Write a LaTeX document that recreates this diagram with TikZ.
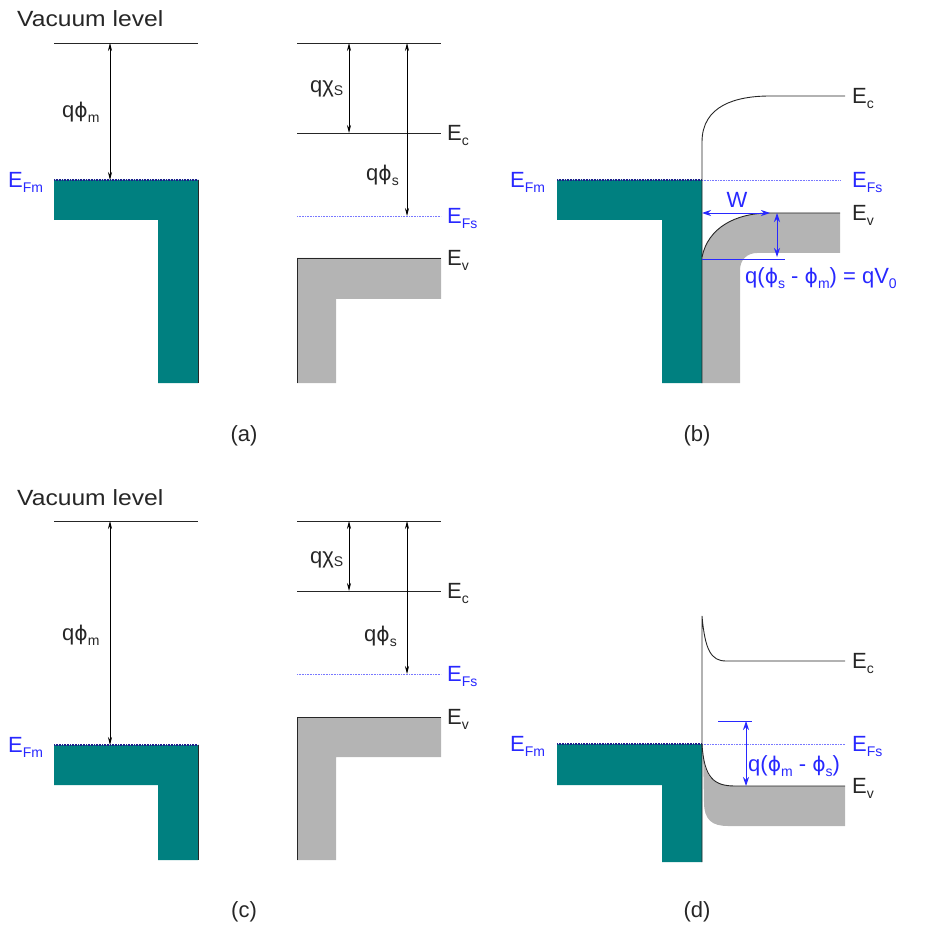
\documentclass[tikz,border=0pt]{standalone}
\usepackage{fontspec}
\setmainfont{Liberation Sans}
\newfontfamily\phifont[Scale=0.92]{DejaVu Sans}
\usetikzlibrary{arrows.meta}
\newcommand\sbs[1]{\raisebox{-5pt}{\fontsize{14}{14}\selectfont #1}}
\newcommand\ph{{\phifont ϕ}}
\definecolor{metalc}{RGB}{0,128,128}
\definecolor{semic}{RGB}{180,180,180}
\definecolor{labblue}{RGB}{40,40,255}
\definecolor{fermiblue}{RGB}{120,120,255}
\definecolor{navyline}{RGB}{30,30,140}
\begin{document}
\begin{tikzpicture}[x=1pt,y=-1pt,
  lvl/.style={line width=0.9pt, black!85},
  fermi/.style={line width=0.9pt, fermiblue, dash pattern=on 0.8pt off 0.8pt},
  mtop/.style={line width=1.1pt, navyline, dash pattern=on 1pt off 0.6pt},
  dimarrow/.style={line width=0.7pt, black, {Stealth[length=8pt,width=4pt]}-{Stealth[length=8pt,width=4pt]}},
  bluearrow/.style={line width=0.9pt, labblue, {Stealth[length=9pt,width=6pt]}-{Stealth[length=9pt,width=6pt]}},
  blueline/.style={line width=0.9pt, labblue},
  txt/.style={anchor=base west, inner sep=0pt, font=\fontsize{22}{26}\selectfont, text=black!85},
  bluetxt/.style={txt, text=labblue},
  panellab/.style={anchor=center, inner sep=0pt, font=\fontsize{22}{26}\selectfont, text=black!85}]
\useasboundingbox (0,0) rectangle (926,925);

% ================= (a) =================
\fill[metalc] (54,180) -- (198,180) -- (198,383) -- (158,383) -- (158,220) -- (54,220) -- cycle;
\draw[lvl] (198,180) -- (198,383);
\draw[mtop] (54,180) -- (198,180);
\draw[lvl] (54,43) -- (198,43);
\coordinate (am1) at (110,43); \coordinate (am2) at (110,180);
\draw[dimarrow] (am1) -- (am2);
\node[txt] (avac) at (17,27) {\scalebox{1.12}[1]{Vacuum level}};
\node[txt] (aqm) at (62,118) {q\ph\sbs{m}};
\node[bluetxt] (aefm) at (8,187.5) {E\sbs{Fm}};

\fill[semic] (297,258) -- (441,258) -- (441,299) -- (336,299) -- (336,383) -- (297,383) -- cycle;
\draw[lvl] (297,383) -- (297,258) -- (441,258);
\draw[lvl] (297,43) -- (441,43);
\draw[lvl] (297,133) -- (441,133);
\draw[fermi] (297,216) -- (441,216);
\coordinate (ac1) at (349,43); \coordinate (ac2) at (349,133);
\draw[dimarrow] (ac1) -- (ac2);
\coordinate (as1) at (407,43); \coordinate (as2) at (407,216);
\draw[dimarrow] (as1) -- (as2);
\node[txt] (aqx) at (310,93) {qχ\raisebox{-3pt}{\fontsize{14}{14}\selectfont S}};
\node[txt] (aqs) at (366,181) {q\ph\sbs{s}};
\node[txt] (aec) at (447,140.5) {E\sbs{c}};
\node[bluetxt] (aefs) at (447,223.5) {E\sbs{Fs}};
\node[txt] (aev) at (447,265.5) {E\sbs{v}};
\node[panellab] (alab) at (244,436) {(a)};

% ================= (b) =================
\fill[metalc] (557,180) -- (702,180) -- (702,383) -- (662,383) -- (662,220) -- (557,220) -- cycle;
\draw[mtop] (557,180) -- (702,180);
\draw[fermi] (702,180) -- (840,180);
\fill[semic] (702,257) .. controls (708,228) and (735,213) .. (770,213) -- (840,213) -- (840,253)
  -- (757,253) .. controls (747,253) and (740,260) .. (740,270) -- (740,383) -- (702,383) -- cycle;
\draw[lvl] (702,257) .. controls (708,228) and (735,213) .. (770,213) -- (840,213);
\draw[lvl] (845,96) -- (770,96) .. controls (735,96) and (702,106) .. (702,142) -- (702,383);
\coordinate (bw1) at (702,213); \coordinate (bw2) at (770,213);
\draw[bluearrow] (bw1) -- (bw2);
\coordinate (bv1) at (777,213); \coordinate (bv2) at (777,257);
\draw[bluearrow] (bv1) -- (bv2);
\coordinate (bl1) at (702,259); \coordinate (bl2) at (785,259);
\draw[blueline] (bl1) -- (bl2);
\node[bluetxt, anchor=base] (bwl) at (737,208) {W};
\node[bluetxt] (bq) at (745,283.5) {q(\ph\sbs{s} - \ph\sbs{m}) = qV\sbs{0}};
\node[bluetxt] (befm) at (510,187.5) {E\sbs{Fm}};
\node[txt] (bec) at (852,103.5) {E\sbs{c}};
\node[bluetxt] (befs) at (852,187.5) {E\sbs{Fs}};
\node[txt] (bev) at (852,220.5) {E\sbs{v}};
\node[panellab] (blab) at (697,436) {(b)};

% ================= (c) =================
\fill[metalc] (54,745) -- (198,745) -- (198,860) -- (158,860) -- (158,785) -- (54,785) -- cycle;
\draw[lvl] (198,745) -- (198,860);
\draw[mtop] (54,745) -- (198,745);
\draw[lvl] (54,521) -- (198,521);
\coordinate (cm1) at (110,521); \coordinate (cm2) at (110,745);
\draw[dimarrow] (cm1) -- (cm2);
\node[txt] (cvac) at (17,505) {\scalebox{1.12}[1]{Vacuum level}};
\node[txt] (cqm) at (62,640) {q\ph\sbs{m}};
\node[bluetxt] (cefm) at (8,752.5) {E\sbs{Fm}};

\fill[semic] (297,717) -- (441,717) -- (441,757) -- (336,757) -- (336,860) -- (297,860) -- cycle;
\draw[lvl] (297,860) -- (297,717) -- (441,717);
\draw[lvl] (297,521) -- (441,521);
\draw[lvl] (297,591) -- (441,591);
\draw[fermi] (297,674) -- (441,674);
\coordinate (cc1) at (349,521); \coordinate (cc2) at (349,591);
\draw[dimarrow] (cc1) -- (cc2);
\coordinate (cs1) at (407,521); \coordinate (cs2) at (407,674);
\draw[dimarrow] (cs1) -- (cs2);
\node[txt] (cqx) at (310,563) {qχ\raisebox{-3pt}{\fontsize{14}{14}\selectfont S}};
\node[txt] (cqs) at (364,641) {q\ph\sbs{s}};
\node[txt] (cec) at (447,598.5) {E\sbs{c}};
\node[bluetxt] (cefs) at (447,681.5) {E\sbs{Fs}};
\node[txt] (cev) at (447,724.5) {E\sbs{v}};
\node[panellab] (clab) at (244,912) {(c)};

% ================= (d) =================
\fill[metalc] (557,744) -- (702,744) -- (702,862) -- (662,862) -- (662,785) -- (557,785) -- cycle;
\draw[mtop] (557,744) -- (702,744);
\draw[fermi] (702,744) -- (845,744);
\fill[semic] (703,752) .. controls (704,778) and (714,786) .. (735,786) -- (845,786) -- (845,826)
  -- (728,826) .. controls (712,826) and (704,820) .. (704,802) -- cycle;
\draw[lvl] (702,744) .. controls (704,778) and (714,786) .. (735,786) -- (845,786);
\draw[lvl] (845,661) -- (726,661) .. controls (711,661) and (705,650) .. (702,616) -- (702,862);
\coordinate (dv1) at (746,721); \coordinate (dv2) at (746,786);
\draw[bluearrow] (dv1) -- (dv2);
\coordinate (dt1) at (718,721); \coordinate (dt2) at (752,721);
\draw[blueline] (dt1) -- (dt2);
\node[bluetxt] (dq) at (748,771) {q(\ph\sbs{m} - \ph\sbs{s})};
\node[bluetxt] (defm) at (510,751.5) {E\sbs{Fm}};
\node[txt] (dec) at (852,668.5) {E\sbs{c}};
\node[bluetxt] (defs) at (852,751.5) {E\sbs{Fs}};
\node[txt] (dev) at (852,793.5) {E\sbs{v}};
\node[panellab] (dlab) at (697,912) {(d)};
\end{tikzpicture}
\end{document}
